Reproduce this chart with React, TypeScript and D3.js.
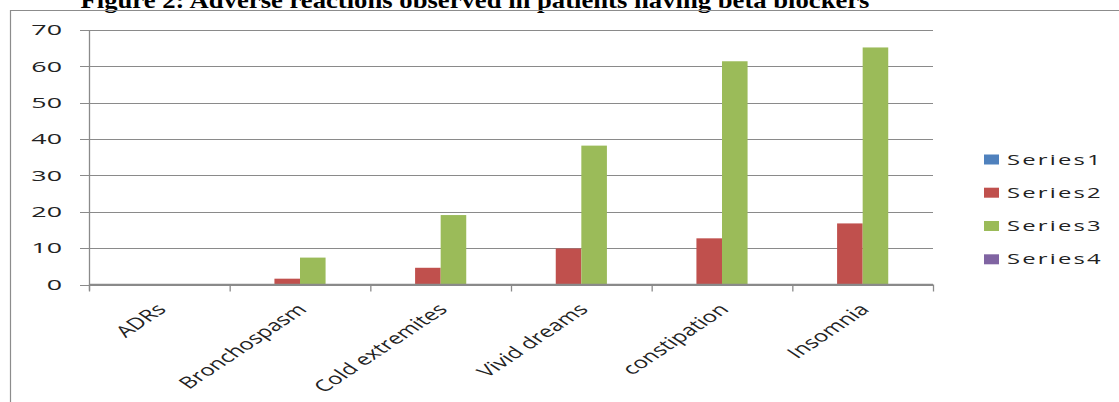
import React from "react";
import * as d3 from "d3";

const categories = ["ADRs", "Bronchospasm", "Cold extremites", "Vivid dreams", "constipation", "Insomnia"];
const seriesNames = ["Series1", "Series2", "Series3", "Series4"];
const series1 = [0, 0, 0, 0, 0, 0];
const series2 = [0, 1.6, 4.6, 9.9, 12.7, 16.8];
const series3 = [0, 7.4, 19.1, 38.2, 61.4, 65.2];
const series4 = [0, 0, 0, 0, 0, 0];
const yTicks = [0, 10, 20, 30, 40, 50, 60, 70];
const seriesColors = ["#4F81BD", "#C0504D", "#9BBB59", "#8064A2"];
const title = "Figure 2:  Adverse reactions observed in patients having beta blockers";

const W = 1119;
const H = 402;
const plot = { left: 89, right: 933, top: 30, bottom: 284.5 };
const font = "'Open Sans', 'DejaVu Sans', sans-serif";
const gridColor = "#8a8a8a";
const textColor = "#222";

export default function App() {
  const values = [series1, series2, series3, series4];
  const x = d3.scaleBand<string>().domain(categories).range([plot.left, plot.right]).paddingInner(0).paddingOuter(0);
  const xs = d3.scaleBand<string>().domain(seriesNames).range([0, x.step()]).paddingInner(0).paddingOuter(0.75);
  const y = d3.scaleLinear().domain([0, 70]).range([plot.bottom, plot.top]);

  const legendY = [159.5, 192.7, 226, 259.3];

  return (
    <svg width={W} height={H} style={{ position: "absolute", left: 0, top: 0, background: "#fff" }}>
      <rect x={0} y={0} width={W} height={H} fill="#fff" />
      {/* title (clipped by the top of the page) */}
      <text
        x={80.5}
        y={7.5}
        fontFamily="'Liberation Serif', 'Times New Roman', serif"
        fontWeight="bold"
        fontSize={24}
        textLength={789}
        lengthAdjust="spacingAndGlyphs"
        fill="#000"
      >
        {title}
      </text>
      {/* chart frame */}
      <path d={`M10.5,${H + 2} V10.5 H${W + 2}`} fill="none" stroke="#8c8c8c" strokeWidth={1.2} />

      {/* gridlines and y ticks */}
      {yTicks.map((t) => (
        <g key={t}>
          <line x1={plot.left - 9} x2={plot.right} y1={Math.round(y(t)) + 0.5} y2={Math.round(y(t)) + 0.5} stroke={gridColor} strokeWidth={1} />
          <text
            transform={`translate(62,${y(t)}) scale(1.85,1)`}
            textAnchor="end"
            dy="0.36em"
            fontFamily={font}
            fontSize={14.5}
            fill={textColor}
          >
            {t}
          </text>
        </g>
      ))}

      {/* bars */}
      {values.map((vals, si) =>
        categories.map((c, ci) => {
          const v = vals[ci];
          if (v <= 0) return null;
          const bx = (x(c) as number) + (xs(seriesNames[si]) as number);
          return (
            <rect key={`${si}-${ci}`} x={bx} y={y(v)} width={xs.bandwidth()} height={y(0) - y(v)} fill={seriesColors[si]} />
          );
        })
      )}

      {/* axes */}
      <line x1={plot.left + 0.5} x2={plot.left + 0.5} y1={y(70)} y2={plot.bottom + 6} stroke={gridColor} strokeWidth={1.3} />
      <line x1={plot.left} x2={plot.right} y1={plot.bottom} y2={plot.bottom} stroke={gridColor} strokeWidth={1.3} />
      {[...categories.map((c) => x(c) as number), plot.right].map((tx, i) => (
        <line key={i} x1={tx + 0.5} x2={tx + 0.5} y1={plot.bottom} y2={plot.bottom + 7} stroke={gridColor} strokeWidth={1.3} />
      ))}

      {/* category labels */}
      {categories.map((c) => {
        const cx = (x(c) as number) + x.bandwidth() / 2;
        return (
          <text
            key={c}
            transform={`translate(${cx - 4},${plot.bottom + 18}) scale(1.5,1) rotate(-45)`}
            textAnchor="end"
            dy="0.7em"
            fontFamily={font}
            fontSize={16}
            fill={textColor}
          >
            {c}
          </text>
        );
      })}

      {/* legend */}
      {seriesNames.map((s, i) => (
        <g key={s}>
          <rect x={984} y={legendY[i] - 5} width={15} height={10} fill={seriesColors[i]} />
          <text
            transform={`translate(1007,${legendY[i]}) scale(1.7,1)`}
            dy="0.36em"
            fontFamily={font}
            fontSize={14}
            letterSpacing={1.3}
            fill={textColor}
          >
            {s}
          </text>
        </g>
      ))}
    </svg>
  );
}
